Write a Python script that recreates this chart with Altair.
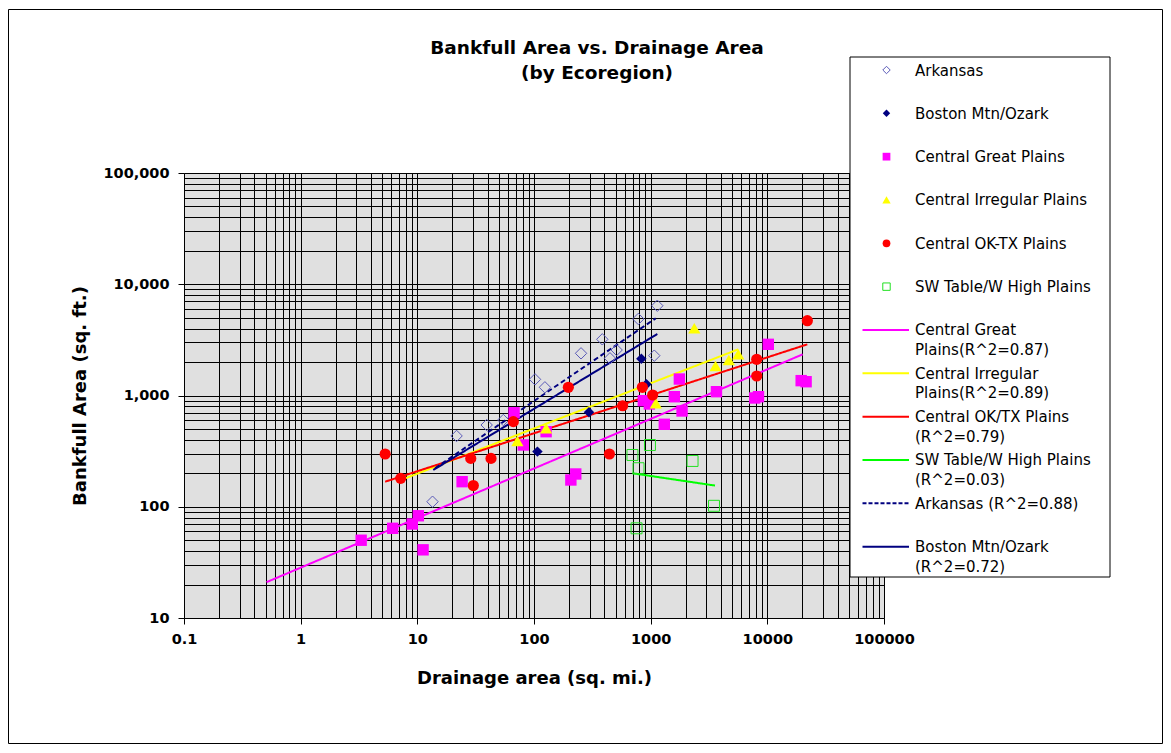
import altair as alt
import pandas as pd

# ---------------- data ----------------
TITLE_LINES = ["Bankfull Area vs. Drainage Area", "(by Ecoregion)"]
X_TITLE = "Drainage area (sq. mi.)"
Y_TITLE = "Bankfull Area (sq. ft.)"

series_names = ["Arkansas", "Boston Mtn/Ozark", "Central Great Plains",
                "Central Irregular Plains", "Central OK-TX Plains", "SW Table/W High Plains"]

ark_x = [13.5, 21.7, 39.3, 54.6, 102, 124, 253, 385, 448, 511, 783, 1074, 1140]
ark_y = [111, 433, 543, 602, 1397, 1185, 2394, 3199, 2160, 2564, 4875, 2280, 6412]

bos_x = [107, 296, 832, 920]
bos_y = [313, 706, 2142, 1260]

cgp_x = [3.3, 6.15, 9.05, 10.2, 11.2, 24.2, 67.5, 81, 127, 207, 228, 865, 975, 1309,
         1596, 1762, 1858, 3664, 7800, 8400, 10190, 19500, 21500]
cgp_y = [50, 64, 70, 83, 41, 168, 700, 359, 473, 174, 197, 898, 839, 551,
         975, 1406, 726, 1082, 950, 975, 2884, 1360, 1330]

cip_x = [72, 127, 1107, 2366, 3597, 4677, 5633]
cip_y = [390, 507, 851, 4018, 1841, 2084, 2345]

cot_x = [5.3, 7.2, 28.7, 30.2, 42.8, 66.5, 197, 443, 575, 849, 1040, 8110, 8110, 22030]
cot_y = [298, 180, 272, 155, 272, 582, 1185, 298, 809, 1185, 1010, 2115, 1497, 4705]

sw_x = [698, 757, 787, 986, 2286, 3490]
sw_y = [292, 64, 222, 359, 258, 102]

trend_names = ["Central Great\nPlains(R^2=0.87)", "Central Irregular\nPlains(R^2=0.89)",
               "Central OK/TX Plains\n(R^2=0.79)", "SW Table/W High Plains\n(R^2=0.03)",
               "Arkansas (R^2=0.88)", "Boston Mtn/Ozark\n(R^2=0.72)"]
trend_x0 = [0.51, 6.65, 5.3, 698, 14.2, 13.7]
trend_y0 = [21, 168, 168, 200, 222, 214]
trend_x1 = [20100, 5633, 22030, 3560, 1104, 1140]
trend_y1 = [2345, 2600, 2884, 155, 4940, 3573]

x_decades = [0.1, 1, 10, 100, 1000, 10000, 100000]
y_decades = [10, 100, 1000, 10000, 100000]

# ---------------- styling ----------------
W, H = 700, 445
FONT = "DejaVu Sans"

point_styles = [
    dict(shape="diamond", filled=False, color="#5a5ab8", size=130, strokeWidth=1, lsize=55),
    dict(shape="diamond", filled=True, color="#000080", size=110, strokeWidth=0, lsize=55),
    dict(shape="square", filled=True, color="#ff00ff", size=130, strokeWidth=0, lsize=60),
    dict(shape="triangle-up", filled=True, color="#ffff00", size=150, strokeWidth=0, lsize=70),
    dict(shape="circle", filled=True, color="#ff0000", size=125, strokeWidth=0, lsize=60),
    dict(shape="square", filled=False, color="#22e022", size=120, strokeWidth=1, lsize=55),
]
line_styles = [
    dict(color="#ff00ff", dash=[1, 0]),
    dict(color="#ffff00", dash=[1, 0]),
    dict(color="#ff0000", dash=[1, 0]),
    dict(color="#00ff00", dash=[1, 0]),
    dict(color="#000080", dash=[5, 3]),
    dict(color="#000080", dash=[1, 0]),
]


def grid_values(decades):
    vals = []
    for d in decades[:-1]:
        for k in range(1, 10):
            vals.append(float(f"{d * k:.6g}"))
    vals.append(decades[-1])
    return vals


DEC_TEST = "abs(log(datum.value)/LN10 - round(log(datum.value)/LN10)) < 0.001"

x_axis = alt.Axis(
    title=X_TITLE, values=grid_values(x_decades), format="~g",
    labelExpr=f"({DEC_TEST}) ? datum.label : ''",
    grid=True, gridColor="#000000", gridWidth=1, gridOpacity=1,
    ticks=True, tickSize=6, tickColor="#000000",
    tickOpacity={"condition": {"test": DEC_TEST, "value": 1}, "value": 0},
    domain=False, labelFont=FONT, labelFontWeight="bold", labelFontSize=14.5,
    labelColor="#000000", labelPadding=8, labelOverlap=False, labelFlush=False,
    titleFont=FONT, titleFontSize=18, titleFontWeight="bold", titleColor="#000000",
    titlePadding=24,
)
y_axis = alt.Axis(
    title=Y_TITLE, values=grid_values(y_decades), format=",.0f",
    labelExpr=f"({DEC_TEST}) ? datum.label : ''",
    grid=True, gridColor="#000000", gridWidth=1, gridOpacity=1,
    ticks=True, tickSize=6, tickColor="#000000",
    tickOpacity={"condition": {"test": DEC_TEST, "value": 1}, "value": 0},
    domain=False, labelFont=FONT, labelFontWeight="bold", labelFontSize=14.5,
    labelColor="#000000", labelPadding=9, labelOverlap=False, labelFlush=False,
    titleFont=FONT, titleFontSize=18, titleFontWeight="bold", titleColor="#000000",
    titlePadding=13,
)
x_scale = alt.Scale(type="log", domain=[x_decades[0], x_decades[-1]], nice=False)
y_scale = alt.Scale(type="log", domain=[y_decades[0], y_decades[-1]], nice=False)
X = alt.X("x:Q", scale=x_scale, axis=x_axis)
Y = alt.Y("y:Q", scale=y_scale, axis=y_axis)

layers = []

# trend lines
for i, name in enumerate(trend_names):
    df = pd.DataFrame({"x": [trend_x0[i], trend_x1[i]], "y": [trend_y0[i], trend_y1[i]],
                       "name": [name, name]})
    st = line_styles[i]
    layers.append(alt.Chart(df).mark_line(color=st["color"], strokeWidth=2,
                                          strokeDash=st["dash"]).encode(x=X, y=Y))

# points
series_xy = [(ark_x, ark_y), (bos_x, bos_y), (cgp_x, cgp_y), (cip_x, cip_y),
             (cot_x, cot_y), (sw_x, sw_y)]
for i, name in enumerate(series_names):
    xs, ys = series_xy[i]
    df = pd.DataFrame({"x": xs, "y": ys, "series": [name] * len(xs)})
    st = point_styles[i]
    kw = dict(shape=st["shape"], size=st["size"], opacity=1)
    if st["filled"]:
        mark = alt.Chart(df).mark_point(filled=True, fill=st["color"], strokeWidth=0, **kw)
    else:
        mark = alt.Chart(df).mark_point(filled=False, fill="transparent", stroke=st["color"],
                                        strokeWidth=st["strokeWidth"], **kw)
    layers.append(mark.encode(x=X, y=Y))

# ---------------- custom legend (layout in plot pixel coordinates) ----------------
one = pd.DataFrame({"a": [0]})
LEG_L, LEG_R, LEG_T, LEG_B = 666, 926, -116, 404
layers.append(alt.Chart(one).mark_rect(fill="white", stroke="black", strokeWidth=1).encode(
    x=alt.value(LEG_L), x2=alt.value(LEG_R), y=alt.value(LEG_T), y2=alt.value(LEG_B)))

SYM_X, TXT_X, LN_X0, LN_X1 = 702.5, 731, 678.5, 725
Y0, DY = -103, 43.33
for i, name in enumerate(series_names):
    yc = Y0 + DY * i
    st = point_styles[i]
    df = pd.DataFrame({"label": [name]})
    kw = dict(shape=st["shape"], size=st["lsize"], opacity=1)
    if st["filled"]:
        m = alt.Chart(df).mark_point(filled=True, fill=st["color"], strokeWidth=0, **kw)
    else:
        m = alt.Chart(df).mark_point(filled=False, fill="transparent", stroke=st["color"],
                                     strokeWidth=1, **kw)
    layers.append(m.encode(x=alt.value(SYM_X), y=alt.value(yc)))
    layers.append(alt.Chart(df).mark_text(align="left", baseline="alphabetic", font=FONT,
                                          fontSize=15, color="black").encode(
        x=alt.value(TXT_X), y=alt.value(yc + 5.5), text="label:N"))

for j, name in enumerate(trend_names):
    yc = Y0 + DY * (len(series_names) + j)
    st = line_styles[j]
    df = pd.DataFrame({"label": [name]})
    layers.append(alt.Chart(df).mark_rule(color=st["color"], strokeWidth=2,
                                          strokeDash=[4, 2] if st["dash"] != [1, 0] else [1, 0]).encode(
        x=alt.value(LN_X0), x2=alt.value(LN_X1), y=alt.value(yc)))
    layers.append(alt.Chart(df).mark_text(align="left", baseline="alphabetic", font=FONT,
                                          fontSize=15, color="black", lineBreak="\n",
                                          lineHeight=19.5).encode(
        x=alt.value(TXT_X), y=alt.value(yc + 5.5), text="label:N"))

# ---------------- chart title (two centred lines) ----------------
tdf = pd.DataFrame({"t": ["\n".join(TITLE_LINES)]})
layers.append(alt.Chart(tdf).mark_text(align="center", baseline="alphabetic", font=FONT,
                                       fontSize=18.5, fontWeight="bold", color="black",
                                       lineBreak="\n", lineHeight=25).encode(
    x=alt.value(413), y=alt.value(-119.5), text="t:N"))

# outer frame
layers.append(alt.Chart(one).mark_rect(fill="transparent", stroke="black", strokeWidth=1).encode(
    x=alt.value(-175.5), x2=alt.value(978.5), y=alt.value(-163.5), y2=alt.value(570.5)))

chart = alt.layer(*layers).properties(
    width=W, height=H,
    autosize=alt.AutoSizeParams(type="none"),
    padding={"left": 176, "top": 165, "right": 279, "bottom": 126},
    background="white",
).configure_view(fill="#e0e0e0", stroke="#808080", strokeWidth=1)

chart.save("out.html", embed_options={"renderer": "svg", "actions": False})
